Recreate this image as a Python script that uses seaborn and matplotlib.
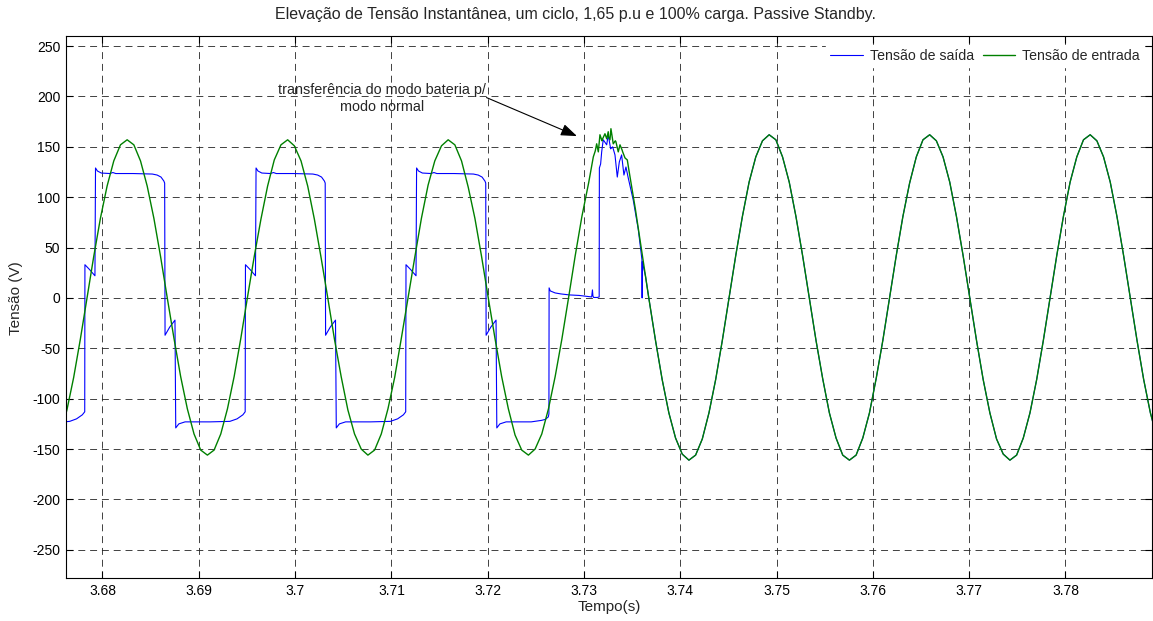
import numpy as np
import pandas as pd
import matplotlib
matplotlib.use("Agg")
import matplotlib.pyplot as plt
import seaborn as sns

# ------------------------------
# Data read off the scope capture
# ------------------------------
# input voltage (green), sampled every 15 degrees of the 60 Hz wave
GREEN_T_START = 3.67562
GREEN_DT = 1 / 60 / 24
green_lead = [-136, -111, -79, -41]
green_c1 = [0, 41, 79, 111, 136, 152, 157, 152, 136, 111, 79, 41,
            0, -40, -78, -110, -135, -151, -156, -151, -135, -110, -78, -40]
green_c2 = [1, 41, 78, 111, 137, 152, 157, 151, 136, 111, 78, 40,
            0, -41, -78, -111, -135, -150, -156, -151, -135, -110, -79, -40]
green_c3 = [0, 40, 79, 112, 136, 151, 157, 152, 136, 110, 79, 41,
            0, -40, -78, -110, -136, -151, -156, -150, -135, -110, -78, -41]
green_c4 = [0, 42, 81, 114, 146, 156, 160, 156, 147, 128, 88, 44,
            0, -42, -81, -114, -139, -155, -161, -156, -140, -114, -81, -42]
green_c5 = [0, 42, 81, 115, 140, 156, 162, 157, 140, 115, 81, 42,
            0, -42, -80, -114, -139, -156, -161, -156, -139, -114, -80, -42]
green_c6 = [0, 42, 81, 114, 140, 157, 162, 156, 140, 115, 81, 42,
            0, -42, -81, -114, -140, -155, -161, -156, -139, -114, -81, -42]
green_c7 = [0, 42, 81, 115, 140, 157, 162, 156, 140, 115, 81, 42,
            0, -42, -81, -114, -139]

# noise on the input around the transfer
green_burst_t = [3.73097, 3.73132, 3.73149, 3.73166, 3.73194, 3.73218, 3.73236, 3.73252, 3.73270,
                 3.73280, 3.73304, 3.73332, 3.73356, 3.73374, 3.73402, 3.73426, 3.73450]
green_burst_v = [140, 153, 145, 162, 158, 163, 158, 165, 157,
                 168, 153, 155, 145, 152, 145, 139, 137]

# output voltage (blue) while on battery, then the transfer
blue_t = [3.67600, 3.67660, 3.67731, 3.67791, 3.67816,
          # cycle 1
          3.67818, 3.67868, 3.67922, 3.67928, 3.67948, 3.67988, 3.68078, 3.68108, 3.68138, 3.68318,
          3.68518, 3.68568, 3.68608, 3.68638, 3.68646, 3.68650, 3.68698, 3.68753, 3.68761, 3.68793,
          3.68858, 3.69118, 3.69323, 3.69398, 3.69458, 3.69482,
          # cycle 2
          3.69485, 3.69535, 3.69589, 3.69595, 3.69615, 3.69655, 3.69745, 3.69775, 3.69805, 3.69985,
          3.70185, 3.70235, 3.70275, 3.70305, 3.70313, 3.70317, 3.70365, 3.70420, 3.70428, 3.70460,
          3.70525, 3.70785, 3.70990, 3.71065, 3.71125, 3.71149,
          # cycle 3
          3.71152, 3.71202, 3.71256, 3.71262, 3.71282, 3.71322, 3.71412, 3.71442, 3.71472, 3.71652,
          3.71852, 3.71902, 3.71942, 3.71972, 3.71980, 3.71984, 3.72032, 3.72087, 3.72095, 3.72127,
          3.72192, 3.72452, 3.72560, 3.72600, 3.72630, 3.72636,
          # transfer
          3.72638, 3.72650, 3.72700, 3.72760, 3.72850, 3.72950, 3.73040, 3.73080, 3.73088, 3.73093,
          3.73100, 3.73140, 3.73158, 3.73160, 3.73173, 3.73184, 3.73200, 3.73236, 3.73252, 3.73277,
          3.73298, 3.73322, 3.73346, 3.73367, 3.73391, 3.73415, 3.73436, 3.73460, 3.73512, 3.73564,
          3.73589, 3.73602, 3.73604, 3.73606, 3.73640]
blue_v = [-123, -122.5, -120, -116, -113,
          33, 28, 22, 129, 126, 124, 123.5, 124.5, 123.5, 123.5,
          123, 122, 120, 116, 114, -37, -29, -22, -129, -125,
          -123, -123, -122.5, -120, -116, -113,
          33, 28, 22, 129, 126, 124, 123.5, 124.5, 123.5, 123.5,
          123, 122, 120, 116, 114, -37, -29, -22, -129, -125,
          -123, -123, -122.5, -120, -116, -113,
          33, 28, 22, 129, 126, 124, 123.5, 124.5, 123.5, 123.5,
          123, 122, 120, 116, 114, -37, -29, -22, -129, -125,
          -123, -123, -121.5, -120.5, -118, -115,
          10, 7, 5, 4, 3, 2.5, 1.5, 1, 8, 2,
          0.5, 0.5, 1, 129, 133, 145, 157, 152, 162, 148,
          150, 142, 120, 135, 142, 122, 130, 119, 97, 68,
          48, 38, 0, 36, 21]
# after this instant the output follows the input
BLUE_FOLLOWS_FROM = 3.7367

x_ticks = [3.68, 3.69, 3.70, 3.71, 3.72, 3.73, 3.74, 3.75, 3.76, 3.77, 3.78]
y_ticks = [-250, -200, -150, -100, -50, 0, 50, 100, 150, 200, 250]

# ------------------------------
# Build frames
# ------------------------------
green_v = green_lead + green_c1 + green_c2 + green_c3 + green_c4 + green_c5 + green_c6 + green_c7
green_t = GREEN_T_START + GREEN_DT * np.arange(len(green_v))
df_green = pd.concat([
    pd.DataFrame({"t": green_t, "v": green_v}),
    pd.DataFrame({"t": green_burst_t, "v": green_burst_v}),
]).sort_values("t").reset_index(drop=True)

late = df_green[df_green["t"] >= BLUE_FOLLOWS_FROM]
df_blue = pd.concat([pd.DataFrame({"t": blue_t, "v": blue_v}), late]).reset_index(drop=True)

# ------------------------------
# Plot
# ------------------------------
sns.set_style("ticks")
plt.rcParams["font.family"] = ["Liberation Sans", "DejaVu Sans"]
plt.rcParams["lines.scale_dashes"] = False

fig = plt.figure(figsize=(11.53, 6.21), dpi=100)
ax = fig.add_axes([0.0572, 0.0692, 0.9419, 0.8728])

sns.lineplot(data=df_blue, x="t", y="v", ax=ax, color="#0000ff", linewidth=0.8,
             sort=False, estimator=None, label="Tensão de saída")
sns.lineplot(data=df_green, x="t", y="v", ax=ax, color="#008000", linewidth=1.0,
             sort=False, estimator=None, label="Tensão de entrada")

ax.set_xlim(3.67621, 3.78898)
ax.set_ylim(-278, 260)
ax.set_xticks(x_ticks)
ax.set_xticklabels([f"{v:g}" for v in x_ticks])
ax.set_yticks(y_ticks)
ax.set_yticklabels([f"{v:g}" for v in y_ticks])
ax.tick_params(direction="in", length=5, width=0.8, top=True, right=True,
               labelsize=10, colors="k", pad=4)
for s in ax.spines.values():
    s.set_linewidth(0.8)
    s.set_color("k")

ax.grid(True, color="#222222", linestyle=(0, (5, 3.5)), linewidth=0.6)
ax.set_axisbelow(True)

ax.set_xlabel("Tempo(s)", fontsize=11, labelpad=2)
ax.set_ylabel("Tensão (V)", fontsize=11, va="center")
ax.yaxis.set_label_coords(-0.046, 0.517)
fig.text(0.4987, 0.9765, "Elevação de Tensão Instantânea, um ciclo, 1,65 p.u e 100% carga. Passive Standby.",
         ha="center", va="center", fontsize=11.5)

ax.text(3.70902, 198, "transferência do modo bateria p/\nmodo normal", ha="center", va="center",
        multialignment="center", fontsize=10.4)
ax.annotate("", xy=(3.72927, 160.7), xytext=(3.71988, 198.9),
            arrowprops=dict(arrowstyle="-|>,head_length=0.7,head_width=0.26", color="k",
                            lw=0.8, shrinkA=0, shrinkB=0, mutation_scale=14))

leg = ax.legend(loc="upper right", bbox_to_anchor=(1 - 5 / 1086, 1 - 6 / 542), ncol=2,
                fontsize=10.2, frameon=True, fancybox=False,
                handlelength=2.3, handletextpad=0.5, columnspacing=0.6, borderaxespad=0.2,
                borderpad=0.3)
leg.get_frame().set_facecolor("white")
leg.get_frame().set_edgecolor("white")
leg.get_frame().set_alpha(1)

fig.savefig("out.png", dpi=100)
